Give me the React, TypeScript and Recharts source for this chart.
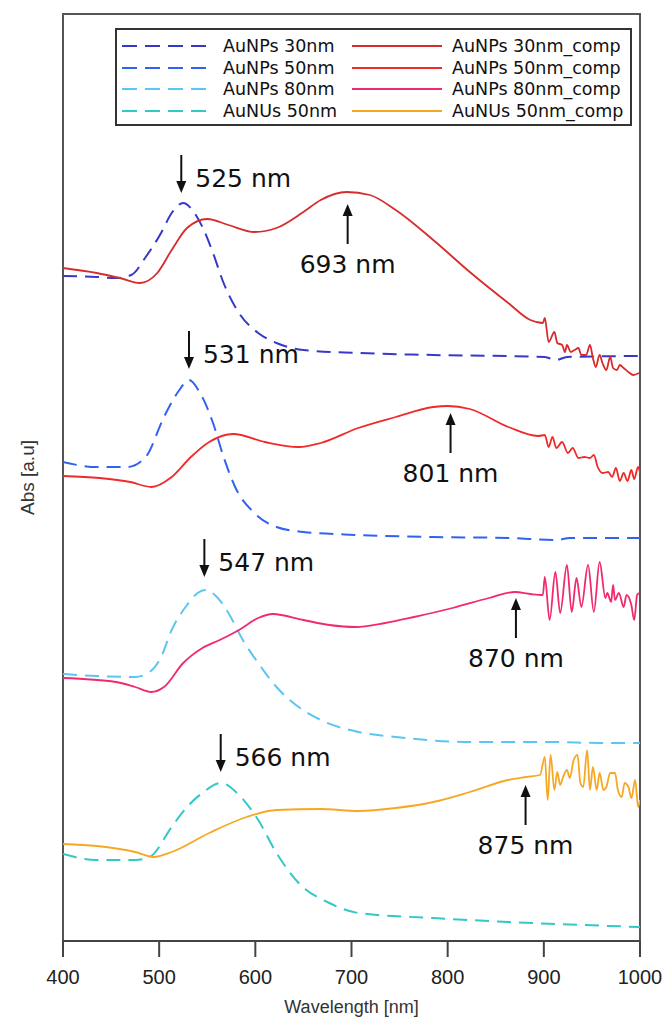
import React from 'react';
import { LineChart, Line, XAxis, YAxis, ReferenceArea, ReferenceDot, Legend } from 'recharts';

// Wavelength (nm) / absorbance (a.u., stacked with offsets) pairs
const AuNPs30 = [[400,6.65],[435,6.64],[455,6.63],[471,6.66],[486,6.84],[502,7.08],[513,7.28],[525,7.38],[536,7.29],[545,7.14],[556,6.88],[567,6.58],[583,6.28],[603,6.08],[622,5.98],[650,5.91],[707,5.88],[785,5.86],[901,5.84],[913,5.81],[924,5.84],[1000,5.85]];
const AuNPs30comp = [[400,6.73],[435,6.68],[459,6.63],[480,6.58],[498,6.68],[513,6.91],[529,7.13],[550,7.22],[572,7.16],[599,7.09],[622,7.13],[650,7.29],[668,7.41],[695,7.49],[719,7.46],[746,7.31],[785,7.01],[823,6.69],[863,6.38],[886,6.21],[899,6.18],[901,6.23],[905,5.99],[911,6.09],[914,5.98],[919,5.96],[922,5.89],[924,5.96],[928,5.89],[932,5.91],[936,5.93],[939,5.86],[944,5.86],[948,5.96],[951,5.83],[954,5.74],[958,5.86],[961,5.78],[965,5.71],[969,5.84],[972,5.73],[976,5.71],[979,5.76],[983,5.73],[988,5.69],[993,5.66],[999,5.68]];
const AuNPs50 = [[400,4.79],[435,4.74],[467,4.74],[486,4.84],[505,5.24],[521,5.51],[531,5.61],[542,5.49],[556,5.18],[567,4.84],[579,4.54],[599,4.28],[622,4.14],[650,4.09],[707,4.06],[785,4.04],[863,4.03],[913,4.01],[927,4.03],[1000,4.03]];
const AuNPs50comp = [[400,4.65],[438,4.63],[470,4.59],[492,4.54],[513,4.64],[533,4.84],[552,4.99],[577,5.07],[610,4.99],[645,4.94],[668,4.98],[707,5.13],[746,5.24],[785,5.34],[800,5.35],[823,5.32],[863,5.14],[894,5.05],[901,5.06],[905,4.94],[909,5.04],[913,4.93],[919,4.99],[925,4.88],[930,4.93],[936,4.83],[942,4.84],[948,4.83],[952,4.86],[956,4.74],[961,4.68],[967,4.69],[971,4.64],[975,4.73],[979,4.6],[983,4.68],[987,4.6],[991,4.71],[994,4.62],[998,4.74],[1000,4.68]];
const AuNPs80 = [[400,2.67],[435,2.65],[475,2.64],[490,2.69],[502,2.84],[513,3.11],[529,3.36],[540,3.48],[548,3.51],[560,3.44],[572,3.28],[587,3.01],[603,2.78],[622,2.54],[645,2.34],[668,2.21],[707,2.09],[746,2.04],[823,1.99],[909,1.99],[958,1.98],[1000,1.98]];
const AuNPs80comp = [[400,2.63],[455,2.59],[475,2.54],[492,2.49],[505,2.54],[525,2.78],[545,2.93],[563,3.01],[583,3.11],[603,3.23],[618,3.27],[650,3.21],[677,3.16],[704,3.14],[735,3.18],[765,3.24],[805,3.33],[843,3.43],[870,3.49],[886,3.47],[899,3.46],[901,3.64],[906,3.21],[912,3.69],[917,3.28],[924,3.76],[929,3.29],[934,3.63],[939,3.34],[946,3.76],[952,3.29],[958,3.79],[964,3.43],[966,3.48],[970,3.39],[972,3.56],[974,3.41],[978,3.48],[983,3.34],[986,3.46],[991,3.36],[994,3.21],[997,3.46],[999,3.48]];
const AuNUs50 = [[400,0.87],[435,0.81],[475,0.81],[490,0.84],[513,1.14],[528,1.33],[545,1.48],[564,1.58],[583,1.46],[603,1.21],[622,0.88],[645,0.58],[677,0.38],[707,0.28],[785,0.23],[863,0.19],[940,0.16],[1000,0.14]];
const AuNUs50comp = [[400,0.97],[435,0.95],[475,0.89],[494,0.84],[513,0.89],[552,1.08],[591,1.24],[622,1.31],[668,1.32],[707,1.30],[746,1.33],[785,1.39],[823,1.49],[863,1.61],[882,1.64],[896,1.66],[901,1.84],[904,1.41],[907,1.86],[911,1.51],[914,1.69],[917,1.56],[920,1.64],[924,1.71],[927,1.63],[931,1.81],[935,1.86],[938,1.58],[941,1.54],[945,1.91],[948,1.51],[951,1.74],[955,1.51],[958,1.68],[962,1.51],[965,1.54],[969,1.68],[974,1.68],[977,1.51],[981,1.44],[984,1.58],[988,1.54],[991,1.43],[995,1.61],[998,1.34],[1000,1.41]];

const xTicks = [400, 500, 600, 700, 800, 900, 1000];
const yMax = 9.27;

const series = [
  { name: 'AuNPs 30nm', color: '#3838c8', dashed: true, pts: AuNPs30 },
  { name: 'AuNPs 50nm', color: '#3262f0', dashed: true, pts: AuNPs50 },
  { name: 'AuNPs 80nm', color: '#5cc6f2', dashed: true, pts: AuNPs80 },
  { name: 'AuNUs 50nm', color: '#33c8c8', dashed: true, pts: AuNUs50 },
  { name: 'AuNPs 30nm_comp', color: '#d62c2c', dashed: false, pts: AuNPs30comp },
  { name: 'AuNPs 50nm_comp', color: '#f02a2a', dashed: false, pts: AuNPs50comp },
  { name: 'AuNPs 80nm_comp', color: '#f02a6c', dashed: false, pts: AuNPs80comp },
  { name: 'AuNUs 50nm_comp', color: '#f7a823', dashed: false, pts: AuNUs50comp },
];

const peakLabels = [
  { text: '525 nm', wl: 523, abs: 7.48, dir: 'down' },
  { text: '693 nm', wl: 696, abs: 7.37, dir: 'up' },
  { text: '531 nm', wl: 531, abs: 5.72, dir: 'down' },
  { text: '801 nm', wl: 803, abs: 5.28, dir: 'up' },
  { text: '547 nm', wl: 547, abs: 3.64, dir: 'down' },
  { text: '870 nm', wl: 871, abs: 3.43, dir: 'up' },
  { text: '566 nm', wl: 564, abs: 1.69, dir: 'down' },
  { text: '875 nm', wl: 881, abs: 1.56, dir: 'up' },
];

const DASH = '14 8';
const annFont = "'DejaVu Sans', sans-serif";
const axisFont = "'Liberation Sans', Arial, Helvetica, sans-serif";

function ArrowLabel(props: any) {
  const { cx, cy, payload } = props;
  const { text, dir } = payload;
  if (cx == null || cy == null) return null;
  if (dir === 'down') {
    return (
      <g>
        <line x1={cx} y1={cy - 38} x2={cx} y2={cy - 10} stroke="#111" strokeWidth={2} />
        <polygon points={`${cx - 5},${cy - 12} ${cx + 5},${cy - 12} ${cx},${cy}`} fill="#111" />
        <text x={cx + 14} y={cy - 15} dominantBaseline="central" textAnchor="start" fontFamily={annFont} fontSize={25} fill="#111">{text}</text>
      </g>
    );
  }
  return (
    <g>
      <line x1={cx} y1={cy + 10} x2={cx} y2={cy + 40} stroke="#111" strokeWidth={2} />
      <polygon points={`${cx - 5},${cy + 12} ${cx + 5},${cy + 12} ${cx},${cy}`} fill="#111" />
      <text x={cx} y={cy + 60} dominantBaseline="central" textAnchor="middle" fontFamily={annFont} fontSize={25} fill="#111">{text}</text>
    </g>
  );
}

function LegendBox() {
  const dashedS = series.filter((s) => s.dashed);
  const solidS = series.filter((s) => !s.dashed);
  const rowY = [18, 40, 61, 83];
  return (
    <div style={{ width: 517, height: 98, border: '2px solid #333', boxSizing: 'border-box', background: '#fff' }}>
      <svg width={513} height={94} style={{ display: 'block' }}>
        {dashedS.map((s, i) => (
          <g key={s.name}>
            <line x1={5} x2={96} y1={rowY[i] - 2} y2={rowY[i] - 2} stroke={s.color} strokeWidth={2} strokeDasharray="15 8" />
            <text x={106} y={rowY[i] - 2} dominantBaseline="central" fontFamily={annFont} fontSize={17.5} fill="#111">{s.name}</text>
          </g>
        ))}
        {solidS.map((s, i) => (
          <g key={s.name}>
            <line x1={235} x2={325} y1={rowY[i] - 2} y2={rowY[i] - 2} stroke={s.color} strokeWidth={2} />
            <text x={335} y={rowY[i] - 2} dominantBaseline="central" fontFamily={annFont} fontSize={17.5} fill="#111">{s.name}</text>
          </g>
        ))}
      </svg>
    </div>
  );
}

function yTitle(props: any) {
  const vb = props.viewBox || { x: 0, y: 14, width: 63, height: 927 };
  const cx = vb.x + 27.5;
  const cy = vb.y + vb.height / 2;
  return (
    <text x={cx} y={cy} transform={`rotate(-90 ${cx} ${cy})`} textAnchor="middle" dominantBaseline="central" fontFamily={axisFont} fontSize={19} fill="#333">Abs [a.u]</text>
  );
}

export default function App() {
  return (
    <div style={{ width: 665, height: 1018, position: 'relative' }}>
      <style>{'html,body{margin:0;padding:0;overflow:hidden;}'}</style>
      <LineChart width={665} height={1018} margin={{ top: 14, right: 25, bottom: 5, left: 0 }}>
        <XAxis
          type="number"
          dataKey="wl"
          domain={[400, 1000]}
          ticks={xTicks}
          allowDataOverflow
          tickSize={16}
          tickMargin={13}
          height={72}
          axisLine={{ stroke: '#444', strokeWidth: 2 }}
          tickLine={{ stroke: '#444', strokeWidth: 2 }}
          tick={{ fill: '#222', fontSize: 20, fontFamily: axisFont }}
          label={{ value: 'Wavelength [nm]', position: 'insideBottom', offset: 0, fill: '#333', fontSize: 18, fontFamily: axisFont }}
        />
        <YAxis
          type="number"
          domain={[0, yMax]}
          allowDataOverflow
          width={63}
          tick={false}
          tickLine={false}
          axisLine={false}
          label={yTitle}
        />
        <ReferenceArea x1={400} x2={1000} y1={0} y2={yMax} fill="none" stroke="#555" strokeWidth={2} />
        <Legend
          layout="horizontal"
          verticalAlign="middle"
          align="center"
          wrapperStyle={{ position: 'absolute', top: 28, left: 115, width: 517, height: 98 }}
          content={() => <LegendBox />}
        />
        {series.map((s) => (
          <Line
            key={s.name}
            name={s.name}
            data={s.pts.map(([wl, abs]) => ({ wl, abs }))}
            dataKey="abs"
            type="monotone"
            stroke={s.color}
            strokeWidth={s.dashed ? 2 : 1.8}
            strokeDasharray={s.dashed ? DASH : undefined}
            dot={false}
            activeDot={false}
            isAnimationActive={false}
          />
        ))}
        {peakLabels.map((p) => (
          <ReferenceDot
            key={p.text}
            x={p.wl}
            y={p.abs}
            r={0}
            shape={(props: any) => <ArrowLabel {...props} payload={p} />}
          />
        ))}
      </LineChart>
    </div>
  );
}
